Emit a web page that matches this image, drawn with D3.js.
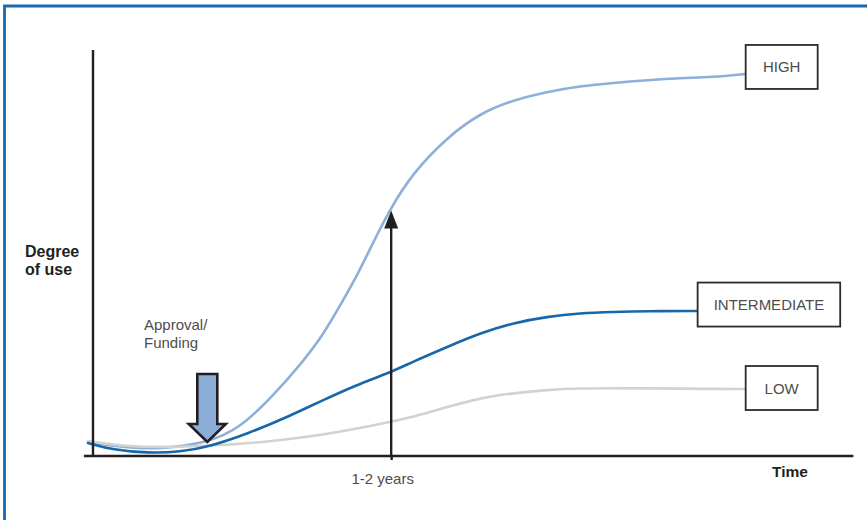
<!DOCTYPE html>
<html>
<head>
<meta charset="utf-8">
<script src="https://cdn.jsdelivr.net/npm/d3@7"></script>
<style>
  html, body { margin: 0; padding: 0; background: #fff; }
  svg { display: block; font-family: "Liberation Sans", Arial, Helvetica, sans-serif; }
</style>
</head>
<body>
<svg id="chart" width="867" height="520"></svg>
<script>
// Adoption curves: time in months after introduction, degree of use in %
const highMonths = [-0.3, 2.2, 4.0, 6.9, 8.9, 10.9, 12.5, 13.9, 15.1, 15.9, 16.9, 17.9, 19.3, 21.4, 23.4, 25.4, 27.4, 29.4, 31.4, 33.5, 35.5, 37.4, 39.4];
const highValues = [3.4, 2.0, 1.7, 3.2, 6.9, 15.0, 22.4, 29.8, 38.4, 44.1, 52.5, 60.6, 69.7, 78.6, 84.5, 87.7, 89.7, 91.1, 91.9, 92.6, 93.1, 93.3, 94.1];

const interMonths = [-0.3, 1.2, 3.3, 5.3, 6.9, 9.3, 11.9, 13.9, 15.9, 17.9, 19.3, 21.4, 23.4, 25.4, 27.4, 29.4, 31.4, 33.5, 36.5];
const interValues = [3.2, 1.5, 0.7, 1.0, 2.2, 5.4, 9.9, 13.8, 17.5, 20.5, 23.2, 26.9, 30.3, 32.8, 34.3, 35.2, 35.5, 35.7, 35.7];

const lowMonths = [-0.3, 2.2, 5.2, 8.3, 11.4, 14.1, 15.9, 17.9, 19.3, 21.4, 23.4, 25.4, 27.4, 29.4, 31.4, 33.5, 37.4, 39.4];
const lowValues = [3.7, 2.2, 2.2, 2.7, 3.9, 5.4, 6.7, 8.4, 9.6, 12.1, 14.3, 15.5, 16.3, 16.7, 16.7, 16.7, 16.5, 16.5];

const seriesNames = ["HIGH", "INTERMEDIATE", "LOW"];
const tickMonths = [18];
const tickLabels = ["1-2 years"];
const approvalMonth = 6.9;
const approvalLabel = ["Approval/", "Funding"];
const yTitle = ["Degree", "of use"];
const xTitle = "Time";

const series = [
  { name: seriesNames[0], months: highMonths, values: highValues, color: "#8db0da", dy: -7 },
  { name: seriesNames[1], months: interMonths, values: interValues, color: "#1767aa", dy: -6.5 },
  { name: seriesNames[2], months: lowMonths, values: lowValues, color: "#d2d2d2", dy: -1 }
];

const svg = d3.select("#chart");
const ink = "#231f20";
const textGrey = "#4d4d4d";

// Frame
svg.append("path")
  .attr("d", "M4.5,524 L4.5,6 L872,6")
  .attr("fill", "none")
  .attr("stroke", "#1b6aae")
  .attr("stroke-width", 2.8);

const x = d3.scaleLinear().domain([0, 46]).range([93, 855]);
const y = d3.scaleLinear().domain([0, 100]).range([456, 50]);

// Curves
const line = d3.line()
  .x(d => x(d[0]))
  .y(d => y(d[1]))
  .curve(d3.curveBasis);

const drawOrder = [series[0], series[2], series[1]];
svg.append("g").selectAll("path")
  .data(drawOrder)
  .join("path")
  .attr("d", s => line(s.months.map((m, i) => [m, s.values[i]])))
  .attr("fill", "none")
  .attr("stroke", s => s.color)
  .attr("stroke-width", 2.6)
  .attr("stroke-linecap", "round");

// Axes
svg.append("line")
  .attr("x1", x(0)).attr("x2", x(0))
  .attr("y1", y(100)).attr("y2", y(0))
  .attr("stroke", ink).attr("stroke-width", 2.4);
svg.append("line")
  .attr("x1", x(-0.55)).attr("x2", x(45.9))
  .attr("y1", y(0)).attr("y2", y(0))
  .attr("stroke", ink).attr("stroke-width", 2.4);

const xAxis = d3.axisBottom(x)
  .tickValues(tickMonths)
  .tickFormat((d, i) => tickLabels[i])
  .tickSize(4)
  .tickPadding(13);
const gx = svg.append("g").attr("transform", `translate(0,${y(0)})`).call(xAxis);
gx.select(".domain").remove();
gx.selectAll(".tick line").attr("stroke", ink).attr("stroke-width", 2.4);
gx.selectAll(".tick text")
  .attr("fill", textGrey)
  .attr("font-size", 15)
  .attr("font-family", "Liberation Sans, Arial, sans-serif")
  .attr("dx", -9);

// Growth arrow at the 1-2 years mark, up to the HIGH curve
const tipY = y(60.6) + 0.5;
svg.append("line")
  .attr("x1", x(tickMonths[0])).attr("x2", x(tickMonths[0]))
  .attr("y1", y(0)).attr("y2", tipY + 14)
  .attr("stroke", ink).attr("stroke-width", 2.4);
svg.append("path")
  .attr("d", `M${x(tickMonths[0])},${tipY} L${x(tickMonths[0]) + 7},${tipY + 18} L${x(tickMonths[0]) - 7},${tipY + 18} Z`)
  .attr("fill", ink);

// Approval / funding block arrow
const ax = x(approvalMonth);
const aTip = y(3.2) - 1;
svg.append("path")
  .attr("d", [
    `M${ax - 10},${aTip - 68}`,
    `L${ax + 10},${aTip - 68}`,
    `L${ax + 10},${aTip - 18}`,
    `L${ax + 18.5},${aTip - 18}`,
    `L${ax},${aTip}`,
    `L${ax - 18.5},${aTip - 18}`,
    `L${ax - 10},${aTip - 18}`,
    "Z"
  ].join(" "))
  .attr("fill", "#8aaed7")
  .attr("stroke", ink)
  .attr("stroke-width", 2.6)
  .attr("stroke-linejoin", "miter");

svg.append("text")
  .attr("x", 144).attr("y", 330)
  .attr("fill", textGrey)
  .attr("font-size", 15)
  .selectAll("tspan")
  .data(approvalLabel)
  .join("tspan")
  .attr("x", 144)
  .attr("dy", (d, i) => i === 0 ? 0 : 17.5)
  .text(d => d);

// Axis titles
svg.append("text")
  .attr("x", 25).attr("y", 257)
  .attr("fill", ink)
  .attr("font-size", 16)
  .attr("font-weight", "bold")
  .selectAll("tspan")
  .data(yTitle)
  .join("tspan")
  .attr("x", 25)
  .attr("dy", (d, i) => i === 0 ? 0 : 17.5)
  .text(d => d);

svg.append("text")
  .attr("x", 790).attr("y", 477)
  .attr("text-anchor", "middle")
  .attr("fill", ink)
  .attr("font-size", 15.5)
  .attr("font-weight", "bold")
  .text(xTitle);

// Series labels in boxes at the end of each curve
const padX = 15;
const boxH = 44;
const minBoxW = 72;
series.forEach(s => {
  const last = s.months.length - 1;
  const bx = x(s.months[last]);
  const cy = y(s.values[last]) + s.dy;
  const g = svg.append("g");
  const t = g.append("text")
    .attr("y", cy + 5.5)
    .attr("fill", textGrey)
    .attr("font-size", 15)
    .attr("text-anchor", "middle")
    .text(s.name);
  const w = Math.max(t.node().getComputedTextLength() + 2 * padX + 2, minBoxW);
  t.attr("x", bx + w / 2);
  g.insert("rect", "text")
    .attr("x", bx).attr("y", cy - boxH / 2)
    .attr("width", w).attr("height", boxH)
    .attr("fill", "#fff")
    .attr("stroke", "#2b2b2b")
    .attr("stroke-width", 1.8);
});
</script>
</body>
</html>
